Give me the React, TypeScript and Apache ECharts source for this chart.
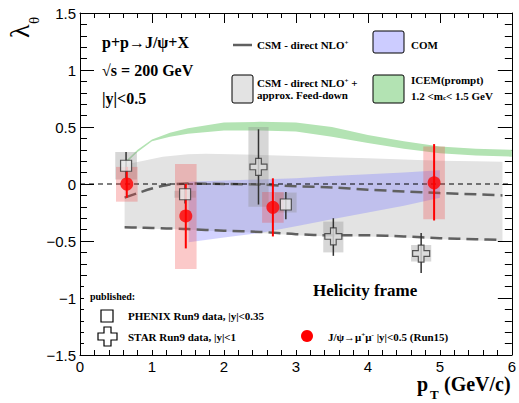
import React, { useEffect, useRef } from 'react';
import * as echarts from 'echarts';

// ---- Run15 J/psi -> mu+ mu- (red) ----
const redX = [0.65, 1.47, 2.68, 4.92];
const redY = [0.0, -0.28, -0.205, 0.01];
const redErrLo = [-0.12, -0.565, -0.46, -0.32];
const redErrHi = [0.15, 0.0, 0.05, 0.35];
const redSysLo = [-0.155, -0.745, -0.34, -0.31];
const redSysHi = [0.15, 0.175, -0.07, 0.33];

// ---- PHENIX Run9 (open squares) ----
const phenixX = [0.64, 1.46, 2.86];
const phenixY = [0.16, -0.09, -0.18];
const phenixErrLo = [0.05, -0.17, -0.31];
const phenixErrHi = [0.28, 0.0, -0.07];
const phenixSysLo = [0.04, -0.12, -0.25];
const phenixSysHi = [0.28, -0.06, -0.075];

// ---- STAR Run9 (open crosses) ----
const starX = [2.48, 3.52, 4.74];
const starY = [0.15, -0.46, -0.61];
const starErrLo = [-0.18, -0.63, -0.78];
const starErrHi = [0.48, -0.3, -0.43];
const starSysLo = [-0.2, -0.6, -0.68];
const starSysHi = [0.5, -0.33, -0.535];

// ---- CSM direct NLO+ + approx feed-down (gray band) ----
const csmFdX = [0.62, 0.85, 1.15, 1.5, 1.75, 2.5, 3.0, 3.5, 4.0, 4.5, 5.0, 5.5, 5.87];
const csmFdHi = [0.17, 0.2, 0.24, 0.26, 0.265, 0.255, 0.245, 0.235, 0.225, 0.215, 0.205, 0.2, 0.195];
const csmFdLo = [-0.39, -0.39, -0.395, -0.4, -0.41, -0.43, -0.45, -0.46, -0.46, -0.47, -0.485, -0.495, -0.5];

// ---- CSM direct NLO+ (dashed lines) ----
const csmDirX = [0.62, 0.8, 1.0, 1.2, 1.5, 2.0, 2.5, 3.0, 3.5, 4.0, 4.5, 5.0, 5.5, 5.87];
const csmDirHi = [-0.12, -0.08, -0.04, -0.01, 0.005, 0.0, -0.005, -0.02, -0.03, -0.05, -0.065, -0.08, -0.09, -0.1];
const csmDirLo = [-0.38, -0.382, -0.385, -0.39, -0.395, -0.41, -0.42, -0.44, -0.45, -0.45, -0.46, -0.475, -0.485, -0.49];

// ---- ICEM prompt (green band) ----
const icemX = [0.65, 0.8, 1.0, 1.25, 1.5, 2.0, 2.5, 3.0, 3.5, 4.0, 4.5, 5.0, 5.5, 6.0];
const icemLo = [0.19, 0.28, 0.375, 0.415, 0.44, 0.47, 0.47, 0.46, 0.415, 0.36, 0.31, 0.27, 0.25, 0.24];
const icemHi = [0.21, 0.3, 0.39, 0.45, 0.49, 0.54, 0.545, 0.54, 0.5, 0.43, 0.375, 0.33, 0.31, 0.3];

// ---- COM (blue band) ----
const comX = [1.51, 2.0, 2.5, 3.0, 3.5, 4.0, 4.5, 5.0];
const comHi = [0.02, 0.03, 0.04, 0.05, 0.07, 0.085, 0.1, 0.12];
const comLo = [-0.51, -0.47, -0.43, -0.37, -0.31, -0.25, -0.19, -0.12];

const SERIF = '"Liberation Serif", "Times New Roman", serif';
const SANS = '"Liberation Sans", Arial, sans-serif';

function band(xs: number[], lo: number[], hi: number[], fill: string, z: number) {
  return {
    type: 'custom',
    z,
    silent: true,
    data: [[xs[0], lo[0]]],
    renderItem: (_p: any, api: any) => {
      const pts: number[][] = [];
      for (let i = 0; i < xs.length; i++) pts.push(api.coord([xs[i], hi[i]]));
      for (let i = xs.length - 1; i >= 0; i--) pts.push(api.coord([xs[i], lo[i]]));
      return { type: 'polygon', shape: { points: pts }, style: { fill } };
    },
  };
}

function boxes(xs: number[], lo: number[], hi: number[], halfW: number, fill: string, stroke: string, z: number) {
  return {
    type: 'custom',
    z,
    silent: true,
    data: xs.map((x, i) => [x, lo[i], hi[i]]),
    renderItem: (_p: any, api: any) => {
      const x = api.value(0);
      const a = api.coord([x - halfW, api.value(2)]);
      const b = api.coord([x + halfW, api.value(1)]);
      return {
        type: 'rect',
        shape: { x: a[0], y: a[1], width: b[0] - a[0], height: b[1] - a[1] },
        style: { fill, stroke: stroke || 'none', lineWidth: stroke ? 1.5 : 0 },
      };
    },
  };
}

function errBars(xs: number[], lo: number[], hi: number[], color: string, width: number, z: number) {
  return {
    type: 'custom',
    z,
    silent: true,
    data: xs.map((x, i) => [x, lo[i], hi[i]]),
    renderItem: (_p: any, api: any) => {
      const a = api.coord([api.value(0), api.value(1)]);
      const b = api.coord([api.value(0), api.value(2)]);
      return { type: 'line', shape: { x1: a[0], y1: a[1], x2: b[0], y2: b[1] }, style: { stroke: color, lineWidth: width } };
    },
  };
}

const CROSS = 'path://M6,0 H12 V6 H18 V12 H12 V18 H6 V12 H0 V6 H6 Z';

function txt(x: number, y: number, text: string, font: string, extra: any = {}) {
  return {
    type: 'text',
    z: 100,
    silent: true,
    style: {
      x, y, text, font, fill: '#000',
      textAlign: 'left', textVerticalAlign: 'middle', verticalAlign: 'middle',
      ...extra,
    },
  };
}

export default function App() {
  const ref = useRef<HTMLDivElement>(null);
  useEffect(() => {
    if (!ref.current) return;
    const chart = echarts.init(ref.current, null, { renderer: 'svg' });
    const axisCommon = {
      type: 'value',
      axisLine: { show: true, onZero: false, lineStyle: { color: '#000', width: 1 } },
      splitLine: { show: false },
    };
    const b11 = `bold 11px ${SERIF}`;
    const supStyle = { font: `bold 7px ${SERIF}`, verticalAlign: 'top', padding: [0, 0, 0, 0] };
    const option: any = {
      animation: false,
      backgroundColor: '#fff',
      grid: { left: 80, right: 6, top: 13, bottom: 48, containLabel: false },
      xAxis: [
        {
          ...axisCommon, min: 0, max: 6, interval: 1, position: 'bottom',
          axisTick: { inside: true, length: 10, lineStyle: { color: '#000' } },
          minorTick: { show: true, splitNumber: 5, length: 5, lineStyle: { color: '#000' } },
          axisLabel: { color: '#000', fontSize: 15, fontFamily: SANS, margin: 4 },
        },
        {
          ...axisCommon, min: 0, max: 6, interval: 1, position: 'top',
          axisTick: { inside: true, length: 10, lineStyle: { color: '#000' } },
          minorTick: { show: true, splitNumber: 5, length: 5, lineStyle: { color: '#000' } },
          axisLabel: { show: false },
        },
      ],
      yAxis: [
        {
          ...axisCommon, min: -1.5, max: 1.5, interval: 0.5, position: 'left',
          axisTick: { inside: true, length: 14, lineStyle: { color: '#000' } },
          minorTick: { show: true, splitNumber: 5, length: 7, lineStyle: { color: '#000' } },
          axisLabel: {
            color: '#000', fontSize: 15, fontFamily: SANS, margin: 4,
            formatter: (v: number) => (v < 0 ? '\u2212' + String(Math.abs(v)) : String(v)),
          },
        },
        {
          ...axisCommon, min: -1.5, max: 1.5, interval: 0.5, position: 'right',
          axisTick: { inside: true, length: 14, lineStyle: { color: '#000' } },
          minorTick: { show: true, splitNumber: 5, length: 7, lineStyle: { color: '#000' } },
          axisLabel: { show: false },
        },
      ],
      series: [
        band(csmFdX, csmFdLo, csmFdHi, '#e3e3e3', 1),
        band(comX, comLo, comHi, 'rgba(130,130,255,0.36)', 2),
        band(icemX, icemLo, icemHi, '#b3e3b3', 3),
        {
          type: 'line', z: 4, symbol: 'none', silent: true, smooth: 0.3,
          data: csmDirX.map((x, i) => [x, csmDirHi[i]]),
          lineStyle: { color: '#606060', width: 2.5, type: [12, 6] },
        },
        {
          type: 'line', z: 4, symbol: 'none', silent: true, smooth: 0.3,
          data: csmDirX.map((x, i) => [x, csmDirLo[i]]),
          lineStyle: { color: '#606060', width: 2.5, type: [12, 6] },
        },
        {
          type: 'line', z: 5, symbol: 'none', silent: true,
          data: [[0, 0], [6, 0]],
          lineStyle: { color: '#000', width: 1.2, type: [5, 4] },
        },
        boxes(phenixX, phenixSysLo, phenixSysHi, 0.15, 'rgba(140,140,140,0.35)', '', 6),
        boxes(starX, starSysLo, starSysHi, 0.14, 'rgba(140,140,140,0.35)', '', 6),
        boxes(redX, redSysLo, redSysHi, 0.15, 'rgba(240,60,60,0.28)', '', 7),
        errBars(phenixX, phenixErrLo, phenixErrHi, '#333', 1.5, 8),
        errBars(starX, starErrLo, starErrHi, '#333', 1.5, 8),
        errBars(redX, redErrLo, redErrHi, '#ff0000', 2, 9),
        {
          type: 'scatter', z: 10, silent: true, symbol: 'rect', symbolSize: 11,
          data: phenixX.map((x, i) => [x, phenixY[i]]),
          itemStyle: { color: '#eeeeee', borderColor: '#333', borderWidth: 1.2 },
        },
        {
          type: 'scatter', z: 10, silent: true, symbol: CROSS, symbolSize: 17,
          data: starX.map((x, i) => [x, starY[i]]),
          itemStyle: { color: '#dddddd', borderColor: '#333', borderWidth: 1.2 },
        },
        {
          type: 'scatter', z: 11, silent: true, symbol: 'circle', symbolSize: 13,
          data: redX.map((x, i) => [x, redY[i]]),
          itemStyle: { color: '#ff0000' },
        },
      ],
      graphic: [
        // bottom legend white box (covers axis ticks like the original)
        { type: 'rect', z: 90, silent: true, shape: { x: 84, y: 286, width: 386, height: 64 }, style: { fill: '#fff' } },
        // y-axis title (rotated)
        {
          type: 'group', x: 33, y: 38, rotation: Math.PI / 2, z: 100, silent: true,
          children: [
            { type: 'text', z: 100, silent: true, style: { x: 0, y: 0, text: 'λ', font: `28px ${SERIF}`, fill: '#000', textAlign: 'left', textVerticalAlign: 'bottom', verticalAlign: 'bottom' } },
            { type: 'text', z: 100, silent: true, style: { x: 14, y: 8, text: 'θ', font: `15px ${SERIF}`, fill: '#000', textAlign: 'left', textVerticalAlign: 'bottom', verticalAlign: 'bottom' } },
          ],
        },
        // x-axis title
        txt(417, 384, 'p', `bold 20px ${SERIF}`),
        txt(430, 394, 'T', `bold 13px ${SERIF}`),
        txt(444, 384, '(GeV/c)', `bold 20px ${SERIF}`),
        // info text
        txt(102, 42, 'p+p→J/ψ+X', `bold 16px ${SERIF}`),
        txt(102, 70, '√s = 200 GeV', `bold 16px ${SERIF}`),
        txt(102, 98, '|y|<0.5', `bold 16px ${SERIF}`),
        // top legend
        { type: 'line', z: 100, silent: true, shape: { x1: 233, y1: 45, x2: 252, y2: 45 }, style: { stroke: '#606060', lineWidth: 2.5 } },
        { type: 'text', z: 100, silent: true, style: { x: 257, y: 45, text: '{a|CSM - direct NLO}{s|+}', textVerticalAlign: 'middle', verticalAlign: 'middle', rich: { a: { font: b11 }, s: supStyle } } },
        { type: 'rect', z: 100, silent: true, shape: { x: 232, y: 75, width: 21, height: 28, r: 2 }, style: { fill: '#e3e3e3', stroke: '#000', lineWidth: 1 } },
        { type: 'text', z: 100, silent: true, style: { x: 257, y: 83, text: '{a|CSM - direct NLO}{s|+}{a| +}', textVerticalAlign: 'middle', verticalAlign: 'middle', rich: { a: { font: b11 }, s: supStyle } } },
        txt(257, 95, 'approx. Feed-down', b11),
        { type: 'rect', z: 100, silent: true, shape: { x: 373, y: 31, width: 31, height: 22, r: 2 }, style: { fill: '#ccccff', stroke: '#000', lineWidth: 1 } },
        txt(411, 45, 'COM', b11),
        { type: 'rect', z: 100, silent: true, shape: { x: 373, y: 75, width: 31, height: 28, r: 2 }, style: { fill: '#b3e3b3', stroke: '#000', lineWidth: 1 } },
        txt(411, 80, 'ICEM(prompt)', b11),
        { type: 'text', z: 100, silent: true, style: { x: 411, y: 96, text: '{a|1.2 <m}{c|c}{a|< 1.5 GeV}', textVerticalAlign: 'middle', verticalAlign: 'middle', rich: { a: { font: b11 }, c: { font: `bold 7px ${SERIF}`, verticalAlign: 'bottom' } } } },
        // bottom legend
        txt(90, 296, 'published:', `bold 10px ${SERIF}`),
        { type: 'rect', z: 100, silent: true, shape: { x: 101, y: 310, width: 12, height: 12 }, style: { fill: '#fff', stroke: '#000', lineWidth: 1.2 } },
        txt(128, 316, 'PHENIX Run9 data, |y|<0.35', b11),
        { type: 'polygon', z: 100, silent: true, shape: { points: [[104, 327], [111, 327], [111, 333], [117, 333], [117, 340], [111, 340], [111, 346], [104, 346], [104, 340], [98, 340], [98, 333], [104, 333]] }, style: { fill: '#fff', stroke: '#000', lineWidth: 1.2 } },
        txt(128, 337, 'STAR Run9 data, |y|<1', b11),
        { type: 'circle', z: 100, silent: true, shape: { cx: 307, cy: 336, r: 6 }, style: { fill: '#ff0000' } },
        { type: 'text', z: 100, silent: true, style: { x: 328, y: 337, text: '{a|J/ψ→μ}{s|+}{a|μ}{s|-}{a| |y|<0.5 (Run15)}', textVerticalAlign: 'middle', verticalAlign: 'middle', rich: { a: { font: b11 }, s: supStyle } } },
        txt(313, 290, 'Helicity frame', `bold 17px ${SERIF}`),
      ],
    };
    chart.setOption(option);
    return () => chart.dispose();
  }, []);
  return <div ref={ref} style={{ position: 'absolute', left: 0, top: 0, width: 519, height: 403 }} />;
}
